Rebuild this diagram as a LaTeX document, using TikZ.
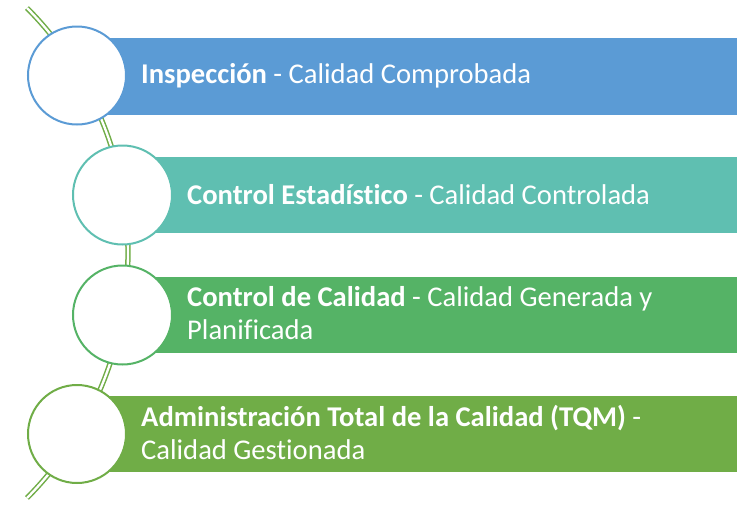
\documentclass[tikz,border=0pt]{standalone}
\usepackage{fontspec}
\setmainfont{Carlito}[Ligatures=NoCommon]
\usepackage{xcolor}
\usepackage{tikz}
\usetikzlibrary{positioning}

\definecolor{azul}{HTML}{5B9BD5}
\definecolor{turquesa}{HTML}{5FBFB1}
\definecolor{verde}{HTML}{55B366}
\definecolor{oliva}{HTML}{70AD47}

\tikzset{
	barra/.style={rectangle,draw=none,minimum height=77pt,inner sep=0pt},
	etapa/.style={circle,fill=white,line width=2pt,minimum size=98pt,inner sep=0pt},
	texto/.style={anchor=west,align=left,text=white,inner sep=0pt,
		font=\fontsize{28.6}{33}\selectfont}
}

\begin{document}
\begin{tikzpicture}[x=1pt,y=-1pt]
	\useasboundingbox (0,0) rectangle (742,504);
	
	% linea de fondo
	\coordinate (arriba) at (27,8);
	\draw [oliva,line width=1.5pt,double=white,double distance=2.3pt]
		(arriba) arc [start angle=-44.8,end angle=44.8,radius=347.7];
	
	\begin{scope}[every node/.style={barra}]
		\node [fill=azul,minimum width=660pt] (B1) at (407,76.5) {};
		\node [fill=turquesa,minimum width=615pt,minimum height=76pt] (B2) at (429.5,195) {};
		\node [fill=verde,minimum width=615pt,minimum height=76pt] (B3) at (429.5,315) {};
		\node [fill=oliva,minimum width=660pt,minimum height=76pt] (B4) at (407,434) {};
	\end{scope}
	
	\begin{scope}[every node/.style={etapa}]
		\node [draw=azul] (C1) at (77,75.5) {};
		\node [draw=turquesa,minimum size=99pt] (C2) at (122.5,195) {};
		\node [draw=verde,minimum size=99pt] (C3) at (122.5,315) {};
		\node [draw=oliva] (C4) at (77,434) {};
	\end{scope}
	
	\begin{scope}[every node/.style={texto}]
		\node (T1) at (141,76) {\textbf{Inspección} - Calidad Comprobada};
		\node (T2) at (187,195) {\textbf{Control Estadístico} - Calidad Controlada};
		\node (T3) at (187,313) {\textbf{Control de Calidad} - Calidad Generada y\\Planificada};
		\node (T4) at (141,432) {\textbf{Administración Total de la Calidad (TQM)} -\\Calidad Gestionada};
	\end{scope}
\end{tikzpicture}
\end{document}
